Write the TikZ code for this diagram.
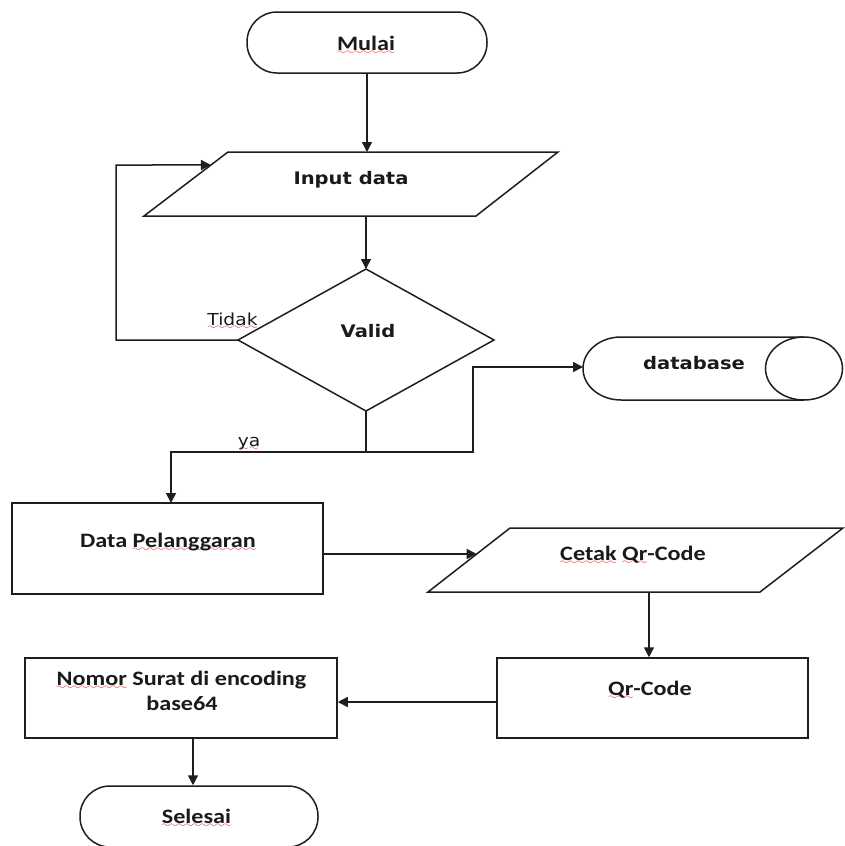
\documentclass[tikz,border=0pt]{standalone}
\usepackage{fontspec}
\usetikzlibrary{arrows.meta,calc}

\newfontfamily\calfont{Carlito}[FakeStretch=1.18]
\newfontfamily\dvfont{DejaVu Sans}[FakeStretch=1.13]

% red wavy spell-check underline
\definecolor{spellred}{HTML}{E81010}
\font\wavefont=lasy6 at 9pt
\newcommand\spl[1]{\setbox0=\hbox{#1}%
  \rlap{\textcolor{spellred}{\lower4.5pt\hbox to \wd0{\xleaders\hbox{\wavefont\char58}\hfil}}}\box0\relax}

\definecolor{ink}{HTML}{1E1E1E}
\definecolor{txt}{HTML}{1A1A1A}

\tikzset{
  x=1pt, y=1pt,
  shapeline/.style={draw=ink, line width=1.5pt},
  box/.style={shapeline, rectangle, inner sep=0pt},
  term/.style={shapeline, rectangle, rounded corners=30pt, inner sep=0pt},
  conn/.style={draw=ink, line width=1.5pt},
  arr/.style={conn, -{Triangle[length=10pt,width=10pt]}},
  calt/.style={font=\calfont\bfseries\fontsize{20.5}{24}\selectfont, text=txt, anchor=base, inner sep=0pt},
  dvb/.style={font=\dvfont\bfseries\fontsize{17.3}{21}\selectfont, text=txt, anchor=base, inner sep=0pt},
  dvr/.style={font=\dvfont\fontsize{16.5}{20}\selectfont, text=txt, anchor=base, inner sep=0pt},
}

\begin{document}
\begin{tikzpicture}
\useasboundingbox (0,0) rectangle (845,-846);
\clip (0,0) rectangle (845,-846);

% start / end terminals
\node[term, minimum width=240, minimum height=61] (mulai) at (367,-42.5) {};
\node[calt] (mulaiT) at (366,-50) {\spl{Mulai}};
\node[term, minimum width=238, minimum height=61] (selesai) at (199,-816.5) {};
\node[calt] (selesaiT) at (196.5,-823) {\spl{Selesai}};

% input parallelogram
\coordinate (inTL) at (228,-152);
\coordinate (inTR) at (558,-152);
\coordinate (inBR) at (476,-216);
\coordinate (inBL) at (144,-216);
\draw[shapeline, line join=miter] (inTL) -- (inTR) -- (inBR) -- (inBL) -- cycle;
\node[dvb] (inputT) at (351,-184) {Input data};

% decision
\coordinate (vT) at (366,-269);
\coordinate (vR) at (494,-340);
\coordinate (vB) at (366,-411);
\coordinate (vL) at (238,-340);
\draw[shapeline] (vT) -- (vR) -- (vB) -- (vL) -- cycle;
\node[dvb] (validT) at (368,-337) {Valid};

% database store
\coordinate (dbL) at (583,-367);
\draw[shapeline] (804,-337) -- (621,-337)
  arc[start angle=90, end angle=270, x radius=38, y radius=31.5] -- (804,-400);
\draw[shapeline] (804,-368.5) ellipse [x radius=38.5, y radius=31.5];
\node[dvb] (dbT) at (694,-369) {database};

% process boxes
\node[box, minimum width=311, minimum height=91] (dp) at (167.5,-548.5) {};
\node[calt] (dpT) at (168,-547) {Data \spl{Pelanggaran}};

\node[box, minimum width=311, minimum height=80] (qr) at (652.5,-698) {};
\node[calt] (qrT) at (650,-695) {\spl{Qr}-Code};

\node[box, minimum width=312, minimum height=80] (nomor) at (181,-698) {};
\node[calt] (nomorT1) at (181.5,-685) {\spl{Nomor} Surat di encoding};
\node[calt] (nomorT2) at (182,-710) {base64};

% print parallelogram
\coordinate (cTL) at (510,-528);
\coordinate (cTR) at (843,-528);
\coordinate (cBR) at (760,-592);
\coordinate (cBL) at (428,-592);
\draw[shapeline, line join=miter] (cTL) -- (cTR) -- (cBR) -- (cBL) -- cycle;
\node[calt] (cetakT) at (633,-560) {\spl{Cetak} \spl{Qr}-Code};

% flow
\draw[arr] (mulai.south) -- (mulai.south |- inTL);
\draw[arr] (vT |- inBL) -- (vT);

% "Tidak" loop back to input
\coordinate (loopC) at (116,-165);
\coordinate (inEdge) at ($(inBL)!0.797!(inTL)$);
\draw[arr] (vL) -| (loopC) -- (inEdge);
\node[dvr] (tidakT) at (232.5,-325) {\spl{Tidak}};

% "ya" branch
\coordinate (jn) at (366,-452);
\coordinate (dpIn) at (171,-503);
\coordinate (dbK) at (473,-452);
\draw[arr] (vB) -- (jn) -| (dpIn);
\draw[arr] (jn) -- (dbK) |- (dbL);
\node[dvr] (yaT) at (249,-446) {\spl{ya}};

% lower chain
\coordinate (cEdge) at ($(cBL)!0.594!(cTL)$);
\draw[arr] (dp.east |- cEdge) -- (cEdge);
\coordinate (qrX) at (649,0);
\draw[arr] (cBL -| qrX) -- (qr.north -| qrX);
\coordinate (nomY) at (0,-702);
\draw[arr] (qr.west |- nomY) -- (nomor.east |- nomY);
\coordinate (selX) at (193,0);
\draw[arr] (nomor.south -| selX) -- (selesai.north -| selX);
\end{tikzpicture}
\end{document}
